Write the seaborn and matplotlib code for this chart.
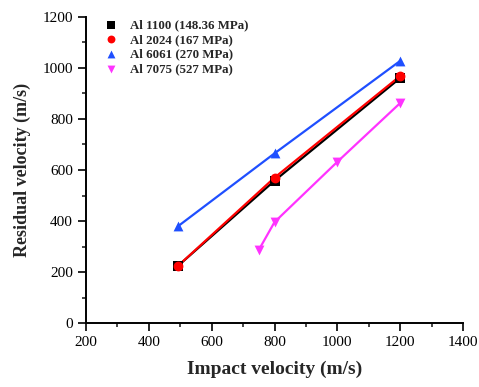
import matplotlib
matplotlib.use("Agg")
import matplotlib.pyplot as plt
import seaborn as sns
import pandas as pd
from matplotlib.ticker import MultipleLocator

# data
labels = ['Al 1100 (148.36 MPa)', 'Al 2024 (167 MPa)', 'Al 6061 (270 MPa)', 'Al 7075 (527 MPa)']
v_1100 = [493, 800, 1200]
r_1100 = [225, 558, 960]
v_2024 = [493, 800, 1200]
r_2024 = [225, 570, 968]
v_6061 = [493, 800, 1200]
r_6061 = [380, 665, 1027]
v_7075 = [750, 800, 1000, 1200]
r_7075 = [287, 396, 632, 862]

colors = ['black', 'red', '#1f4fff', '#ff33ff']
markers = ['s', 'o', '^', 'v']

sns.set_style('ticks')
plt.rcParams['font.family'] = ['Liberation Serif', 'DejaVu Serif']

fig = plt.figure(figsize=(4.79, 3.87), dpi=100)
ax = fig.add_axes([86 / 479, 1 - 323.3 / 387, (463 - 86) / 479, (323.3 - 16.7) / 387])

series = [(v_1100, r_1100), (v_2024, r_2024), (v_6061, r_6061), (v_7075, r_7075)]
for (x, y), lab, c, m in zip(series, labels, colors, markers):
    df = pd.DataFrame({'x': x, 'y': y})
    sns.lineplot(data=df, x='x', y='y', color=c, linewidth=1.6, sort=False, legend=False, ax=ax)
    sns.scatterplot(data=df, x='x', y='y', color=c, marker=m, s=50, edgecolor=c, linewidth=0, label=lab, ax=ax, zorder=3)

ax.set_xlim(200, 1400)
ax.set_ylim(0, 1200)
ax.xaxis.set_major_locator(MultipleLocator(200))
ax.xaxis.set_minor_locator(MultipleLocator(100))
ax.yaxis.set_major_locator(MultipleLocator(200))
ax.yaxis.set_minor_locator(MultipleLocator(100))
ax.tick_params(which='major', direction='out', length=6, width=1.2, labelsize=11, colors='black')
ax.tick_params(which='minor', direction='out', length=3, width=1.2)
sns.despine(ax=ax)
for s in ['left', 'bottom']:
    ax.spines[s].set_linewidth(1.4)
    ax.spines[s].set_color('black')

ax.set_xlabel('Impact velocity (m/s)', fontsize=14, fontweight='bold', labelpad=8)
ax.set_ylabel('Residual velocity (m/s)', fontsize=13, fontweight='bold', labelpad=8)

leg = ax.legend(loc='upper left', bbox_to_anchor=(0.0, 1.03), frameon=False,
                prop={'weight': 'bold', 'size': 9.3}, handletextpad=0.5,
                labelspacing=0.2, markerscale=0.8)

fig.savefig('out.png', dpi=100)
